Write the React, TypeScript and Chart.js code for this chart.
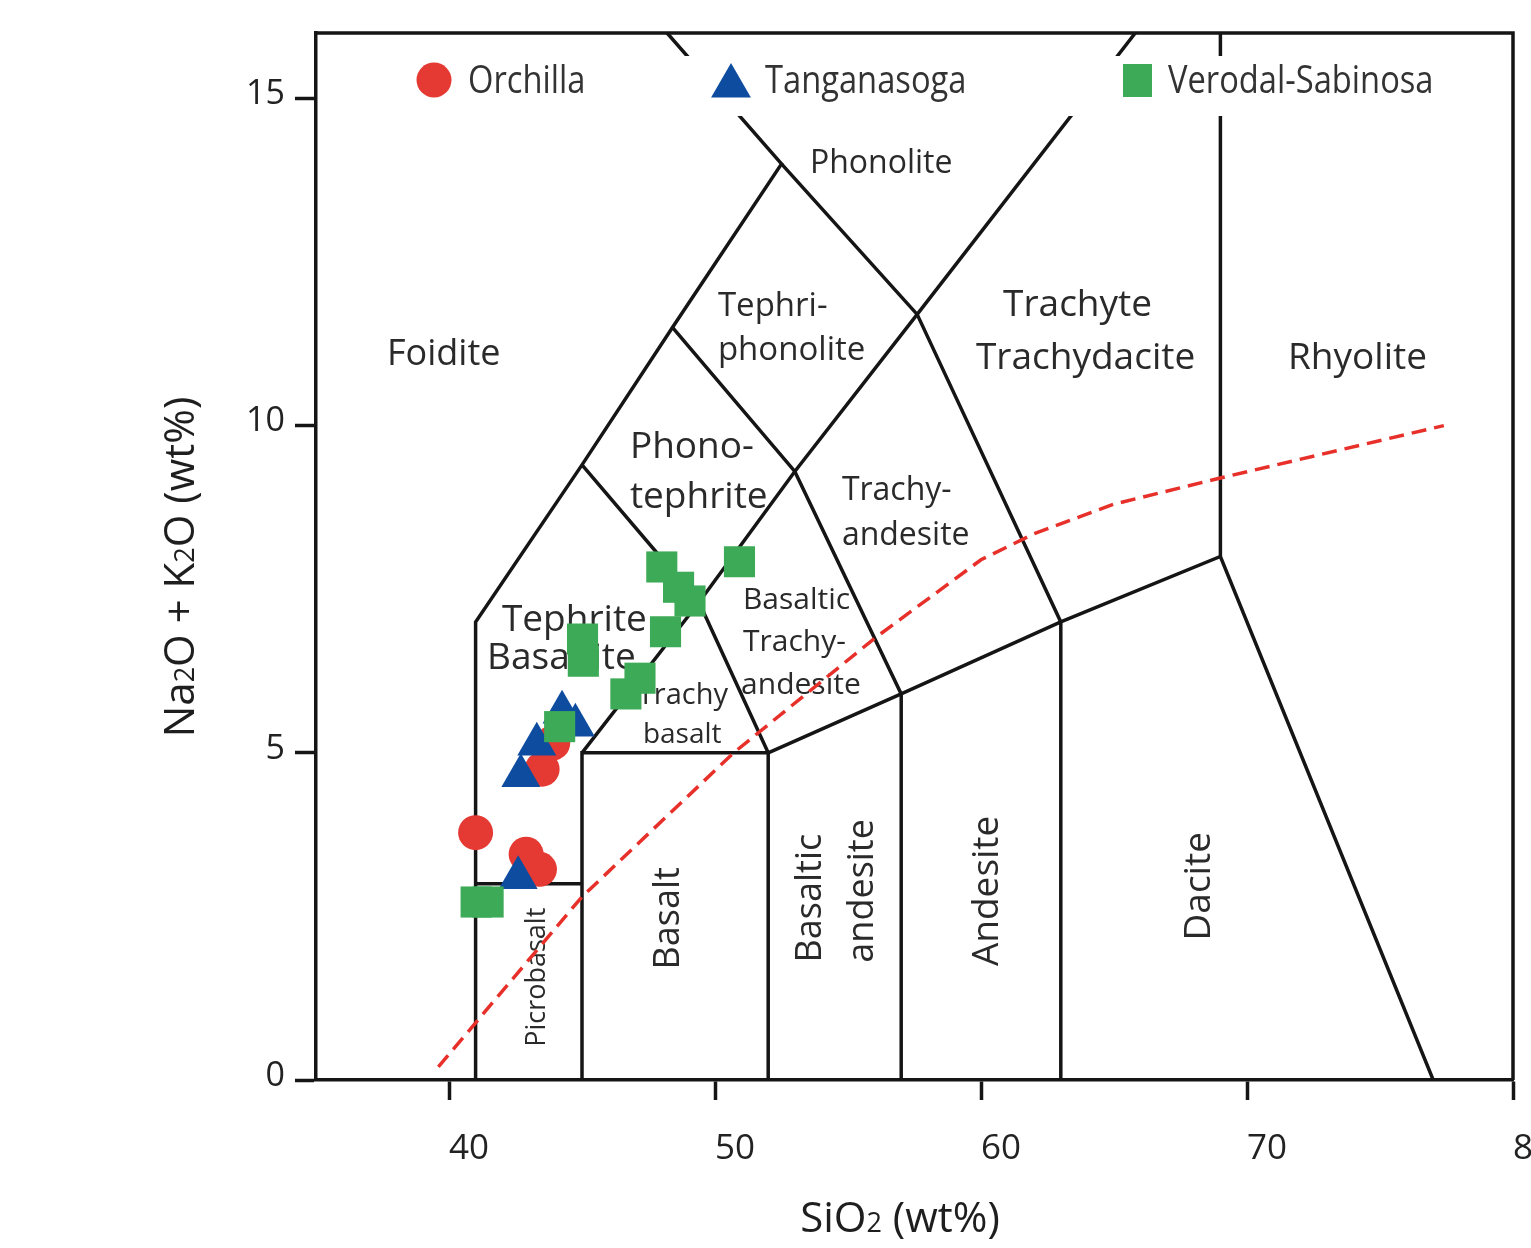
import React, { useEffect, useRef } from 'react';
import { Chart, registerables } from 'chart.js';

Chart.register(...registerables);

const FONT = '"Open Sans", "DejaVu Sans", sans-serif';

// ---------- axis ticks ----------
const xTicks = [40, 50, 60, 70, 80];
const yTicks = [0, 5, 10, 15];

// ---------- series ----------
const seriesNames = ['Orchilla', 'Tanganasoga', 'Verodal-Sabinosa'];

const orchilla = [
  { x: 41.0, y: 3.78 },
  { x: 42.9, y: 3.45 },
  { x: 43.4, y: 3.22 },
  { x: 43.9, y: 5.15 },
  { x: 43.5, y: 4.75 },
];

const tanganasoga = [
  { x: 44.25, y: 5.62 },
  { x: 44.75, y: 5.42 },
  { x: 43.3, y: 5.13 },
  { x: 42.7, y: 4.65 },
  { x: 42.6, y: 3.09 },
];

const verodalSabinosa = [
  { x: 41.02, y: 2.72 },
  { x: 41.47, y: 2.72 },
  { x: 44.16, y: 5.4 },
  { x: 45.02, y: 6.74 },
  { x: 45.05, y: 6.4 },
  { x: 46.65, y: 5.9 },
  { x: 47.18, y: 6.14 },
  { x: 48.14, y: 6.85 },
  { x: 48.0, y: 7.84 },
  { x: 48.63, y: 7.53 },
  { x: 49.06, y: 7.32 },
  { x: 50.92, y: 7.92 },
];

// ---------- TAS field boundaries (SiO2, Na2O+K2O) ----------
const tasBoundaries: number[][][] = [
  [[41, 0], [41, 7], [45, 9.4], [48.4, 11.5], [52.5, 14], [48.2, 16]],
  [[41, 3], [45, 3]],
  [[45, 0], [45, 5], [52, 5], [52, 0]],
  [[45, 5], [49.4, 7.3], [53, 9.3], [57.6, 11.7], [65.8, 16]],
  [[45, 9.4], [49.4, 7.3], [52, 5]],
  [[48.4, 11.5], [53, 9.3], [57, 5.9], [57, 0]],
  [[52.5, 14], [57.6, 11.7], [63, 7], [63, 0]],
  [[52, 5], [57, 5.9], [63, 7], [69, 8], [77, 0]],
  [[69, 8], [69, 16]],
];

// alkaline / subalkaline divide
const alkalineDivide: number[][] = [
  [39.6, 0.2], [45, 2.8], [50.7, 5.0], [56, 6.75], [60, 7.95],
  [62, 8.35], [65, 8.8], [69, 9.2], [77.4, 10.0],
];

// ---------- field names ----------
const fieldLabels = [
  { text: 'Foidite', x: 37.67, y: 11.12, size: 36 },
  { text: 'Phonolite', x: 53.57, y: 14.04, size: 32 },
  { text: 'Tephri-', x: 50.11, y: 11.85, size: 33 },
  { text: 'phonolite', x: 50.11, y: 11.18, size: 33 },
  { text: 'Phono-', x: 46.8, y: 9.7, size: 37 },
  { text: 'tephrite', x: 46.8, y: 8.94, size: 37 },
  { text: 'Tephrite', x: 41.99, y: 7.07, size: 37 },
  { text: 'Basanite', x: 41.43, y: 6.49, size: 37 },
  { text: 'Trachy', x: 47.1, y: 5.91, size: 29 },
  { text: 'basalt', x: 47.29, y: 5.3, size: 28 },
  { text: 'Basaltic', x: 51.05, y: 7.36, size: 30 },
  { text: 'Trachy-', x: 51.05, y: 6.72, size: 30 },
  { text: 'andesite', x: 50.98, y: 6.06, size: 30 },
  { text: 'Trachy-', x: 54.77, y: 9.04, size: 32 },
  { text: 'andesite', x: 54.77, y: 8.35, size: 32 },
  { text: 'Trachyte', x: 60.83, y: 11.88, size: 37 },
  { text: 'Trachydacite', x: 59.81, y: 11.06, size: 37 },
  { text: 'Rhyolite', x: 71.54, y: 11.06, size: 37 },
];

const verticalLabels = [
  { text: 'Picrobasalt', x: 43.23, y: 1.57, size: 27 },
  { text: 'Basalt', x: 48.16, y: 2.47, size: 36 },
  { text: 'Basaltic', x: 53.5, y: 2.78, size: 36 },
  { text: 'andesite', x: 55.45, y: 2.89, size: 36 },
  { text: 'Andesite', x: 60.15, y: 2.89, size: 37 },
  { text: 'Dacite', x: 68.12, y: 2.96, size: 37 },
];

const RED = '#e53a33';
const BLUE = '#0d4c9f';
const GREEN = '#3caa56';
const LINE = '#151515';

type Part = { t: string; sub?: boolean };

function drawRich(ctx: CanvasRenderingContext2D, parts: Part[], size: number, subSize: number, cx: number, cy: number, rot: number) {
  ctx.save();
  ctx.translate(cx, cy);
  ctx.rotate(rot);
  ctx.textAlign = 'left';
  ctx.textBaseline = 'alphabetic';
  const widths = parts.map((p) => {
    ctx.font = `${p.sub ? subSize : size}px ${FONT}`;
    return ctx.measureText(p.t).width;
  });
  const total = widths.reduce((a, b) => a + b, 0);
  let x = -total / 2;
  parts.forEach((p, i) => {
    ctx.font = `${p.sub ? subSize : size}px ${FONT}`;
    ctx.fillText(p.t, x, 0.357 * size);
    x += widths[i];
  });
  ctx.restore();
}

const overlayPlugin = {
  id: 'tasOverlay',
  beforeDatasetsDraw(chart: any) {
    const { ctx, scales } = chart;
    const xs = scales.x;
    const ys = scales.y;
    ctx.save();
    ctx.fillStyle = '#2a2a2a';
    ctx.textAlign = 'left';
    ctx.textBaseline = 'alphabetic';
    for (const l of fieldLabels) {
      ctx.font = `${l.size}px ${FONT}`;
      ctx.fillText(l.text, xs.getPixelForValue(l.x), ys.getPixelForValue(l.y) + 0.357 * l.size);
    }
    for (const l of verticalLabels) {
      ctx.save();
      ctx.translate(xs.getPixelForValue(l.x), ys.getPixelForValue(l.y));
      ctx.rotate(-Math.PI / 2);
      ctx.font = `${l.size}px ${FONT}`;
      ctx.textAlign = 'center';
      ctx.fillText(l.text, 0, 0.357 * l.size);
      ctx.restore();
    }
    ctx.restore();
  },
  afterDatasetsDraw(chart: any) {
    const { ctx, chartArea } = chart;
    const L = chartArea.left;
    const T = chartArea.top;
    ctx.save();

    // legend box (white, hides the boundary lines behind it)
    ctx.fillStyle = '#ffffff';
    ctx.fillRect(L + 84, T + 23, 1070, 60);

    // legend markers
    ctx.fillStyle = RED;
    ctx.beginPath();
    ctx.arc(L + 118, T + 47, 17.5, 0, Math.PI * 2);
    ctx.fill();

    const tr = 23;
    const tcx = L + 415;
    const tcy = T + 53;
    ctx.fillStyle = BLUE;
    ctx.beginPath();
    for (let k = 0; k < 3; k++) {
      const a = (k * 2 * Math.PI) / 3;
      const px = tcx + Math.sin(a) * tr;
      const py = tcy - Math.cos(a) * tr;
      if (k === 0) ctx.moveTo(px, py);
      else ctx.lineTo(px, py);
    }
    ctx.closePath();
    ctx.fill();

    ctx.fillStyle = GREEN;
    ctx.fillRect(L + 807, T + 31, 29, 33);

    // legend texts (slightly condensed)
    ctx.fillStyle = '#333333';
    const lsize = 38;
    ctx.font = `${lsize}px ${FONT}`;
    ctx.textAlign = 'left';
    ctx.textBaseline = 'alphabetic';
    const legendX = [L + 152, L + 449, L + 852];
    seriesNames.forEach((name, i) => {
      ctx.save();
      ctx.translate(legendX[i], T + 46 + 0.357 * lsize);
      ctx.scale(0.86, 1);
      ctx.fillText(name, 0, 0);
      ctx.restore();
    });

    // top and right frame
    ctx.strokeStyle = LINE;
    ctx.lineWidth = 3.5;
    ctx.beginPath();
    ctx.moveTo(chartArea.left, chartArea.top);
    ctx.lineTo(chartArea.right, chartArea.top);
    ctx.lineTo(chartArea.right, chartArea.bottom);
    ctx.stroke();

    // axis titles
    ctx.fillStyle = '#1e1e1e';
    drawRich(ctx, [{ t: 'SiO' }, { t: '2', sub: true }, { t: ' (wt%)' }], 42, 27, 900, 1217, 0);
    drawRich(
      ctx,
      [{ t: 'Na' }, { t: '2', sub: true }, { t: 'O + K' }, { t: '2', sub: true }, { t: 'O (wt%)' }],
      42, 27, 179, 567, -Math.PI / 2
    );

    ctx.restore();
  },
};

export default function App() {
  const ref = useRef<HTMLCanvasElement | null>(null);

  useEffect(() => {
    if (!ref.current) return;
    const toXY = (pts: number[][]) => pts.map((p) => ({ x: p[0], y: p[1] }));

    const lineSets = tasBoundaries.map((pts) => ({
      data: toXY(pts),
      showLine: true,
      borderColor: LINE,
      borderWidth: 3.5,
      pointRadius: 0,
      fill: false,
      tension: 0,
      order: 10,
    }));

    const chart = new Chart(ref.current, {
      type: 'scatter',
      data: {
        datasets: [
          {
            label: seriesNames[2],
            data: verodalSabinosa,
            pointStyle: 'rect',
            pointRadius: 22,
            backgroundColor: GREEN,
            borderWidth: 0,
            order: 0,
          },
          {
            label: seriesNames[1],
            data: tanganasoga,
            pointStyle: 'triangle',
            pointRadius: 22.5,
            backgroundColor: BLUE,
            borderWidth: 0,
            order: 1,
          },
          {
            label: seriesNames[0],
            data: orchilla,
            pointStyle: 'circle',
            pointRadius: 17.5,
            backgroundColor: RED,
            borderWidth: 0,
            order: 2,
          },
          {
            data: toXY(alkalineDivide),
            showLine: true,
            borderColor: '#e8302a',
            borderWidth: 3.5,
            borderDash: [15, 8],
            pointRadius: 0,
            fill: false,
            tension: 0,
            order: 9,
          },
          ...lineSets,
        ] as any,
      },
      options: {
        responsive: false,
        animation: false,
        devicePixelRatio: 1,
        events: [],
        layout: { autoPadding: false, padding: { left: 0, right: 18, top: 33, bottom: 0 } },
        plugins: {
          legend: { display: false },
          tooltip: { enabled: false },
          title: { display: false },
        },
        scales: {
          x: {
            type: 'linear',
            min: 35,
            max: 80,
            afterBuildTicks: (s: any) => {
              s.ticks = xTicks.map((v) => ({ value: v }));
            },
            afterFit: (s: any) => {
              s.height = 168;
              s.paddingLeft = 0;
              s.paddingRight = 0;
            },
            grid: { drawOnChartArea: false, drawTicks: true, tickLength: 20, tickWidth: 3.5, tickColor: LINE },
            border: { display: true, color: LINE, width: 3.5 },
            ticks: {
              font: { size: 35, family: FONT },
              color: '#222222',
              padding: 28,
              labelOffset: 20,
              maxRotation: 0,
              autoSkip: false,
            },
          },
          y: {
            type: 'linear',
            min: 0,
            max: 16,
            afterBuildTicks: (s: any) => {
              s.ticks = yTicks.map((v) => ({ value: v }));
            },
            afterFit: (s: any) => {
              s.width = 316;
              s.paddingTop = 0;
              s.paddingBottom = 0;
            },
            grid: { drawOnChartArea: false, drawTicks: true, tickLength: 21, tickWidth: 3.5, tickColor: LINE },
            border: { display: true, color: LINE, width: 3.5 },
            ticks: {
              font: { size: 34, family: FONT },
              color: '#222222',
              padding: 10,
              labelOffset: -4,
              autoSkip: false,
            },
          },
        },
      } as any,
      plugins: [overlayPlugin as any],
    });

    return () => chart.destroy();
  }, []);

  return (
    <div style={{ position: 'absolute', left: 0, top: 0, width: 1531, height: 1248, background: '#fff' }}>
      <canvas ref={ref} width={1531} height={1248} style={{ display: 'block', width: 1531, height: 1248 }} />
    </div>
  );
}
